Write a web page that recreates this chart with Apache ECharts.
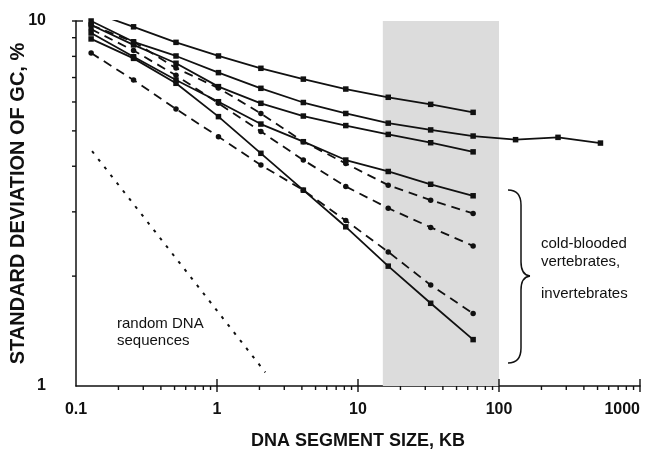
<!DOCTYPE html>
<html>
<head>
<meta charset="utf-8">
<script src="https://cdn.jsdelivr.net/npm/echarts@6/dist/echarts.min.js"></script>
<style>
  html, body { margin: 0; padding: 0; background: #fff; }
  #chart { width: 660px; height: 451px; }
</style>
</head>
<body>
<div id="chart"></div>
<script>
// segment sizes, kb
const sizes = [0.128, 0.256, 0.512, 1.024, 2.048, 4.096, 8.192, 16.384, 32.768, 65.536];
const sizesLong = [0.128, 0.256, 0.512, 1.024, 2.048, 4.096, 8.192, 16.384, 32.768, 65.536, 131.072, 262.144, 524.288];

// solid curves
const solid1 = [10.6, 9.64, 8.74, 8.02, 7.42, 6.93, 6.51, 6.18, 5.91, 5.62];
const solid2 = [10.0, 8.77, 8.02, 7.22, 6.54, 5.98, 5.58, 5.25, 5.03, 4.84, 4.73, 4.80, 4.63];
const solid3 = [9.75, 8.6, 7.66, 6.61, 5.95, 5.49, 5.17, 4.89, 4.64, 4.38];
const solid4 = [9.27, 7.98, 6.89, 6.01, 5.22, 4.67, 4.16, 3.87, 3.57, 3.32];
const solid5 = [8.93, 7.9, 6.75, 5.47, 4.34, 3.44, 2.73, 2.13, 1.685, 1.34];
// dashed curves
const dashed1 = [9.75, 8.77, 7.43, 6.55, 5.58, 4.67, 4.07, 3.55, 3.23, 2.97];
const dashed2 = [9.5, 8.3, 7.1, 5.95, 4.98, 4.16, 3.52, 3.07, 2.72, 2.42];
const dashed3 = [8.17, 6.89, 5.74, 4.82, 4.03, 3.44, 2.84, 2.33, 1.89, 1.58];
// random DNA sequences (dotted)
const randomX = [0.13, 2.2];
const randomY = [4.4, 1.09];

// shaded band, kb
const bandFrom = 15;
const bandTo = 100;

// ticks
const xLabels = [0.1, 1, 10, 100, 1000];
const xMajorTicks = [1, 10, 100, 1000];
const xMinorTicks = [0.2, 0.3, 0.4, 0.5, 0.6, 0.7, 0.8, 0.9,
  2, 3, 4, 5, 6, 7, 8, 9, 20, 30, 40, 50, 60, 70, 80, 90,
  200, 300, 400, 500, 600, 700, 800, 900];
const yMajorTicks = [10];
const yMinorTicks = [2, 3, 4, 5, 6, 7, 8, 9];

const ink = '#111';
const pair = (xs, ys) => ys.map((v, i) => [xs[i], v]);

const solidLine = (d) => ({
  type: 'line', data: d, symbol: 'rect', symbolSize: 5.5,
  lineStyle: { color: ink, width: 1.8 }, itemStyle: { color: ink }, z: 5
});
const dashLine = (d) => ({
  type: 'line', data: d, symbol: 'circle', symbolSize: 5.5,
  lineStyle: { color: ink, width: 1.8, type: [9, 6] }, itemStyle: { color: ink }, z: 5
});

// curly brace next to the lower curves
const braceStyle = { fill: 'none', stroke: ink, lineWidth: 1.5 };
const brace = [
  { type: 'bezierCurve', shape: { x1: 508, y1: 190, cpx1: 521, cpy1: 190, x2: 521, y2: 205 }, style: braceStyle },
  { type: 'line', shape: { x1: 521, y1: 205, x2: 521, y2: 262 }, style: braceStyle },
  { type: 'bezierCurve', shape: { x1: 521, y1: 262, cpx1: 521, cpy1: 275, x2: 530, y2: 276 }, style: braceStyle },
  { type: 'bezierCurve', shape: { x1: 530, y1: 276, cpx1: 521, cpy1: 277, x2: 521, y2: 290 }, style: braceStyle },
  { type: 'line', shape: { x1: 521, y1: 290, x2: 521, y2: 348 }, style: braceStyle },
  { type: 'bezierCurve', shape: { x1: 521, y1: 348, cpx1: 521, cpy1: 363, x2: 508, y2: 363 }, style: braceStyle }
];

const note = '15px "Liberation Sans"';

const chart = echarts.init(document.getElementById('chart'));
const bold = 'bold';
const option = {
  animation: false,
  backgroundColor: '#fff',
  grid: { left: 76, right: 20, top: 21, bottom: 65, containLabel: false, outerBoundsMode: 'none' },
  xAxis: {
    type: 'log', logBase: 10, min: 0.1, max: 1000,
    name: 'DNA SEGMENT SIZE, KB', nameLocation: 'middle', nameGap: 46, nameMoveOverlap: false,
    nameTextStyle: { fontFamily: 'Liberation Sans', fontWeight: bold, fontSize: 18, color: ink },
    axisLine: { lineStyle: { color: ink, width: 1.5 } },
    axisTick: { show: false },
    splitLine: { show: false },
    axisLabel: {
      margin: 16, color: ink, fontFamily: 'Liberation Sans', fontWeight: bold, fontSize: 16,
      alignMaxLabel: 'right',
      formatter: (v) => (xLabels.indexOf(+v) >= 0 ? String(+v) : '')
    }
  },
  yAxis: {
    type: 'log', logBase: 10, min: 1, max: 10,
    name: 'STANDARD DEVIATION OF GC, %', nameLocation: 'middle', nameGap: 48, nameMoveOverlap: false,
    nameTextStyle: { fontFamily: 'Liberation Sans', fontWeight: bold, fontSize: 20, color: ink },
    axisLine: { lineStyle: { color: ink, width: 1.5 } },
    axisTick: { show: false },
    splitLine: { show: false },
    axisLabel: { margin: 30, color: ink, fontFamily: 'Liberation Sans', fontWeight: bold, fontSize: 16 }
  },
  graphic: [
    { type: 'text', x: 117, y: 315, style: { text: 'random DNA\nsequences', font: note, fill: ink, lineHeight: 17 } },
    { type: 'text', x: 541, y: 235, style: { text: 'cold-blooded\nvertebrates,', font: note, fill: ink, lineHeight: 18 } },
    { type: 'text', x: 541, y: 285, style: { text: 'invertebrates', font: note, fill: ink, lineHeight: 18 } }
  ].concat(brace),
  series: [
    {
      type: 'line', data: pair(randomX, randomY), symbol: 'none',
      lineStyle: { color: ink, width: 2, type: [3, 7] }, z: 4,
      markArea: {
        silent: true,
        itemStyle: { color: '#dcdcdc' },
        data: [[{ xAxis: bandFrom }, { xAxis: bandTo }]]
      }
    },
    solidLine(pair(sizes, solid1)),
    solidLine(pair(sizesLong, solid2)),
    solidLine(pair(sizes, solid3)),
    solidLine(pair(sizes, solid4)),
    solidLine(pair(sizes, solid5)),
    dashLine(pair(sizes, dashed1)),
    dashLine(pair(sizes, dashed2)),
    dashLine(pair(sizes, dashed3)),
    {
      // x axis ticks: major cross the line, minor point down
      type: 'custom', clip: false, silent: true, z: 6,
      data: xMajorTicks.map(v => [v, 1, 1]).concat(xMinorTicks.map(v => [v, 1, 0])),
      renderItem: (params, api) => {
        const p = api.coord([api.value(0), api.value(1)]);
        const major = api.value(2) === 1;
        return { type: 'line', shape: { x1: p[0], y1: p[1] - (major ? 7 : 0), x2: p[0], y2: p[1] + (major ? 6 : 4) },
          style: { stroke: ink, lineWidth: 1.4 } };
      }
    },
    {
      // y axis ticks
      type: 'custom', clip: false, silent: true, z: 6,
      data: yMajorTicks.map(v => [0.1, v, 1]).concat(yMinorTicks.map(v => [0.1, v, 0])),
      renderItem: (params, api) => {
        const p = api.coord([api.value(0), api.value(1)]);
        const major = api.value(2) === 1;
        return { type: 'line', shape: { x1: p[0] - 4, y1: p[1], x2: p[0] + (major ? 7 : 0), y2: p[1] },
          style: { stroke: ink, lineWidth: 1.4 } };
      }
    }
  ]
};
chart.setOption(option);
window.addEventListener('resize', function () {
  chart.resize();
});
</script>
</body>
</html>
